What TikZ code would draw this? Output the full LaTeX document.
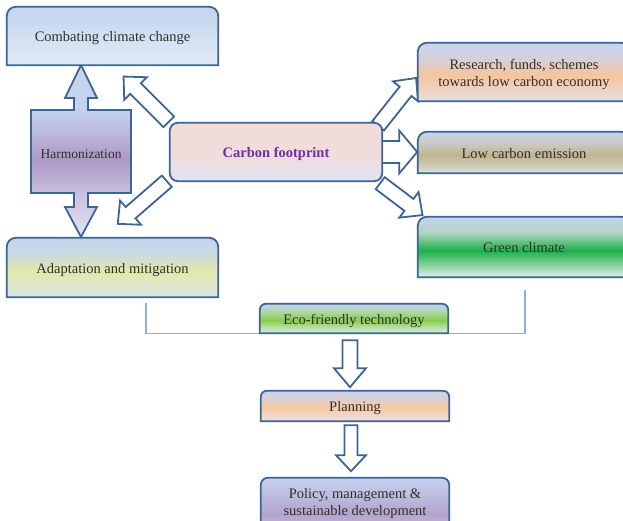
\documentclass[tikz,border=0pt]{standalone}
\usepackage{fontspec}
\setmainfont{Liberation Serif}
\usetikzlibrary{calc,backgrounds}

\definecolor{bord}{HTML}{3D6594}
\definecolor{txt}{HTML}{2F2F2F}
\definecolor{cfp}{HTML}{7030A0}
\definecolor{brk}{HTML}{8FB0DA}

\newcommand{\vshade}[6]{%
  \pgfdeclareverticalshading{#1}{100bp}{color(0bp)=(#6); color(25bp)=(#6); color(36bp)=(#5); color(47bp)=(#4); color(62bp)=(#3); color(75bp)=(#2); color(100bp)=(#2)}}

% combating
\definecolor{ca}{HTML}{C4D5EE}\definecolor{cb}{HTML}{CAD9EF}\definecolor{cc}{HTML}{D3E1F1}\definecolor{cd}{HTML}{DAE6F3}\definecolor{ce}{HTML}{DFEAF4}
\vshade{combatS}{ca}{cb}{cc}{cd}{ce}
% adaptation
\definecolor{aa}{HTML}{C3D3EE}\definecolor{ab}{HTML}{CAD8E2}\definecolor{ac}{HTML}{E1E9A8}\definecolor{ad}{HTML}{DFE6C8}\definecolor{ae}{HTML}{DDE4EC}
\vshade{adaptS}{aa}{ab}{ac}{ad}{ae}
% carbon
\definecolor{fa}{HTML}{F2DBDA}\definecolor{fb}{HTML}{F2DBDB}\definecolor{fc}{HTML}{F0DCDC}\definecolor{fd}{HTML}{EADFE6}\definecolor{fe}{HTML}{E2E3F0}
\vshade{cfS}{fa}{fb}{fc}{fd}{fe}
% research
\definecolor{ra}{HTML}{C5D4EE}\definecolor{rb}{HTML}{D6D0DC}\definecolor{rc}{HTML}{F7C49C}\definecolor{rd}{HTML}{EFD2C0}\definecolor{re}{HTML}{E6DFE4}
\vshade{resS}{ra}{rb}{rc}{rd}{re}
% low carbon
\definecolor{la}{HTML}{C5D4EE}\definecolor{lb}{HTML}{CCCBC6}\definecolor{lc}{HTML}{BFB58F}\definecolor{ld}{HTML}{CCC8B0}\definecolor{le}{HTML}{E0E0DC}
\vshade{lowS}{la}{lb}{lc}{ld}{le}
% green
\definecolor{ga}{HTML}{C5D4EE}\definecolor{gb}{HTML}{B0D4C0}\definecolor{gc}{HTML}{1DB04A}\definecolor{gd}{HTML}{7FD095}\definecolor{ge}{HTML}{E4F0F0}
\vshade{greenS}{ga}{gb}{gc}{gd}{ge}
% eco
\definecolor{ea}{HTML}{C2D2F0}\definecolor{eb}{HTML}{B0D8A8}\definecolor{ec}{HTML}{86CC48}\definecolor{ed}{HTML}{B4DEA0}\definecolor{ee}{HTML}{DBEED6}
\vshade{ecoS}{ea}{eb}{ec}{ed}{ee}
% planning
\definecolor{pa}{HTML}{C4D3EE}\definecolor{pb}{HTML}{DCD0D0}\definecolor{pc}{HTML}{F8C8A0}\definecolor{pd}{HTML}{F2D6C6}\definecolor{pe}{HTML}{EEE2E6}
\vshade{planS}{pa}{pb}{pc}{pd}{pe}
% policy
\definecolor{qa}{HTML}{C4D3EE}\definecolor{qb}{HTML}{C0C4E4}\definecolor{qc}{HTML}{B8B0D6}\definecolor{qd}{HTML}{B4A4CC}\definecolor{qe}{HTML}{C0B0D4}
\vshade{polS}{qa}{qb}{qc}{qd}{qe}
% harmonization
\definecolor{ha}{HTML}{E4E4F4}\definecolor{hb}{HTML}{C8C0DE}\definecolor{hc}{HTML}{AD98C6}\definecolor{hd}{HTML}{BCBCDE}\definecolor{he}{HTML}{C4D2EC}\definecolor{hf}{HTML}{C6D6EE}
\pgfdeclareverticalshading{harmS}{100bp}{color(0bp)=(ha); color(25bp)=(ha); color(37.8bp)=(hb); color(47.4bp)=(hc); color(56bp)=(hd); color(62bp)=(he); color(75bp)=(hf); color(100bp)=(hf)}

% box with rounded top corners only
\newcommand{\topbox}[3]{%
  \path[boxline, shading=#3] (#1.south west) -- ($(#1.north west)+(0,-#2)$)
    arc[start angle=180, end angle=90, radius=#2] -- ($(#1.north east)+(-#2,0)$)
    arc[start angle=90, end angle=0, radius=#2] -- (#1.south east) -- cycle;}

% hollow block arrow: start, angle, length, shaft half width, head half width, head length
\newcommand{\barr}[6]{%
  \begin{scope}[shift={#1}, rotate=#2]
    \draw[barrow] (0,-#4) -- ({#3-#6},-#4) -- ({#3-#6},-#5) -- (#3,0) -- ({#3-#6},#5) -- ({#3-#6},#4) -- (0,#4) -- cycle;
  \end{scope}}

\tikzset{
  boxline/.style={draw=bord, line width=1.8pt},
  barrow/.style={draw=bord, fill=white, line width=1.8pt, line join=miter},
  lbl/.style={inner sep=0pt, align=center, text=txt, font=\fontsize{14.5}{16.5}\selectfont, text height=15pt, text depth=3.1pt},
  two/.style={text height=31.4pt},
  bracketline/.style={draw=brk, line width=1.2pt}
}

\begin{document}
\begin{tikzpicture}[x=1pt, y=1pt]
\useasboundingbox (0,0) rectangle (623,-521);
\clip (0,0) rectangle (623,-521);

\node[lbl, minimum width=211pt, minimum height=58pt] (combat) at (112.5,-36) {Combating climate change};
\node[lbl, minimum width=211pt, minimum height=59pt] (adapt) at (112.5,-267.5) {Adaptation and mitigation};
\node[lbl, minimum width=212pt, minimum height=58pt, text=cfp, font=\fontsize{14.5}{16.5}\selectfont\bfseries] (cf) at (276,-152) {Carbon footprint};
\node[lbl, two, minimum width=212pt, minimum height=58pt] (res) at (524,-72) {Research, funds, schemes\\towards low carbon economy};
\node[lbl, minimum width=212pt, minimum height=41pt] (low) at (524,-152.5) {Low carbon emission};
\node[lbl, minimum width=212pt, minimum height=60pt] (green) at (524,-247) {Green climate};
\node[lbl, minimum width=188pt, minimum height=29pt] (eco) at (354,-318.5) {Eco-friendly technology};
\node[lbl, minimum width=188pt, minimum height=30pt] (plan) at (355,-406) {Planning};
\node[lbl, two, minimum width=188pt, minimum height=46pt] (pol) at (355,-501) {Policy, management \&\\sustainable development};
\node[lbl, font=\fontsize{13.5}{15}\selectfont, text height=14pt, text depth=3pt] (harm) at (81,-153) {Harmonization};

\coordinate (bl) at (146,-303);
\coordinate (br) at (525,-290);

\begin{pgfonlayer}{background}
  % bracket
  \draw[bracketline] (bl) |- (eco.south);
  \draw[bracketline] (br) |- (eco.south);
  % harmonization double arrow
  \path[boxline, shading=harmS] (81,-65) -- (97,-98) -- (88,-98) -- (88,-110) -- (131,-110) -- (131,-193)
    -- (88,-193) -- (88,-207) -- (97,-207) -- (81,-237) -- (65,-207) -- (74,-207) -- (74,-193)
    -- (31,-193) -- (31,-110) -- (74,-110) -- (74,-98) -- (65,-98) -- cycle;
  % block arrows
  \barr{($(cf.north west)+(-1,1)$)}{135}{64}{7.5}{16}{17}
  \barr{($(cf.south west)+(-3,0)$)}{221}{65}{7.5}{16}{17}
  \barr{($(cf.north east)+(-4,-3)$)}{51.6}{61}{7.5}{16}{17}
  \barr{($(cf.east)+(-1,0)$)}{0}{36}{11}{21.5}{18}
  \barr{($(cf.south east)+(-2,-2)$)}{-37}{53}{7.5}{16}{17}
  \barr{($(eco.south)+(-4,-7)$)}{-90}{47}{7.5}{16}{19}
  \barr{($(plan.south)+(-4,-4)$)}{-90}{46}{6.5}{15}{16}
  % boxes
  \topbox{combat}{9}{combatS}
  \topbox{adapt}{9}{adaptS}
  \path[boxline, shading=cfS, rounded corners=8pt] (cf.south west) rectangle (cf.north east);
  \topbox{res}{9}{resS}
  \topbox{low}{9}{lowS}
  \topbox{green}{9}{greenS}
  \topbox{eco}{6}{ecoS}
  \topbox{plan}{6}{planS}
  \topbox{pol}{7}{polS}
\end{pgfonlayer}
\end{tikzpicture}
\end{document}
